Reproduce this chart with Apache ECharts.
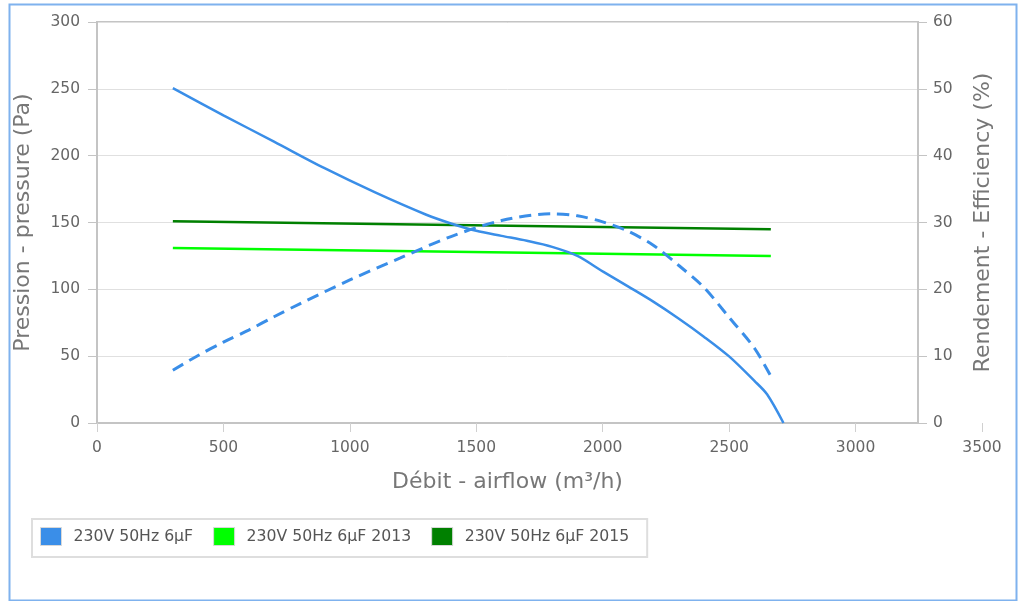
<!DOCTYPE html>
<html>
<head>
<meta charset="utf-8">
<script src="https://cdn.jsdelivr.net/npm/echarts@6/dist/echarts.min.js"></script>
<style>
html,body{margin:0;padding:0;background:#fff;}
#chart{width:1022px;height:601px;}
</style>
</head>
<body>
<div id="chart"></div>
<script>
// ---- data ----
var seriesNames = ['230V 50Hz 6µF', '230V 50Hz 6µF 2013', '230V 50Hz 6µF 2015'];
var flowPressure = [300, 500, 700, 900, 1100, 1300, 1400, 1500, 1600, 1700, 1800, 1900, 2000, 2100, 2200, 2300, 2400, 2500, 2600, 2650, 2715];
var pressure     = [250.5, 230.2, 210.5, 190.6, 172.5, 156, 149.3, 143.8, 140, 136.3, 131.8, 125, 113.4, 102.2, 90.8, 78.2, 64.6, 49.8, 31.5, 21.5, 0];
var flowEff      = [300, 400, 500, 600, 700, 800, 1000, 1200, 1400, 1600, 1800, 1900, 2000, 2100, 2200, 2300, 2400, 2500, 2600, 2665];
var efficiency   = [7.9, 10.1, 12.1, 13.9, 15.9, 17.8, 21.4, 24.7, 27.9, 30.3, 31.3, 31.0, 30.1, 28.7, 26.6, 23.6, 20.3, 15.8, 11.2, 7.0];
var flowTarget   = [300, 2665];
var target2013   = [26.2, 25.0];
var target2015   = [30.2, 29.0];
var xTicks = [0, 500, 1000, 1500, 2000, 2500, 3000, 3500];
var leftTicks = [0, 50, 100, 150, 200, 250, 300];
var rightTicks = [0, 10, 20, 30, 40, 50, 60];

function pairs(xs, ys) { return xs.map(function (x, i) { return [x, ys[i]]; }); }
function plain(v) { return String(v); }

var FONT = 'DejaVu Sans';
var BLUE = '#3a8ee8', LIME = '#00ff00', DARK = '#008000';
var AXIS = '#c4c4c4';
var TICKFS = 15.5, TITLEFS = 22;

var chart = echarts.init(document.getElementById('chart'), null, {renderer: 'canvas'});
chart.setOption({
  animation: false,
  backgroundColor: '#fff',
  graphic: [{
    type: 'rect', left: 7, top: 2, silent: true,
    shape: {width: 1007, height: 596},
    style: {fill: 'none', stroke: '#7fb2ee', lineWidth: 2}
  }],
  grid: [
    {left: 97, top: 22, right: 104, bottom: 178, show: true, borderColor: AXIS, borderWidth: 2, backgroundColor: 'transparent'},
    {left: 97, top: 22, right: 40, bottom: 178, show: false}
  ],
  xAxis: [
    {
      gridIndex: 0, type: 'value', min: xTicks[0], max: 3247,
      axisLine: {show: true, lineStyle: {color: AXIS, width: 2}},
      axisTick: {show: false}, axisLabel: {show: false}, splitLine: {show: false},
      name: 'Débit - airflow (m³/h)', nameLocation: 'middle', nameGap: 48,
      nameTextStyle: {fontFamily: FONT, fontSize: TITLEFS, color: '#777'}
    },
    {
      gridIndex: 1, type: 'value', min: xTicks[0], max: xTicks[xTicks.length - 1], interval: 500,
      axisLine: {show: false},
      axisTick: {show: true, length: 9, lineStyle: {color: '#d0d0d0', width: 1}},
      axisLabel: {fontFamily: FONT, fontSize: TICKFS, color: '#666', margin: 17, formatter: plain},
      splitLine: {show: false}
    }
  ],
  yAxis: [
    {
      gridIndex: 0, type: 'value', position: 'left',
      min: leftTicks[0], max: leftTicks[leftTicks.length - 1], interval: 50,
      axisLine: {show: true, lineStyle: {color: AXIS, width: 2}},
      axisTick: {show: true, length: 9, lineStyle: {color: AXIS}},
      axisLabel: {fontFamily: FONT, fontSize: TICKFS, color: '#666', margin: 17, formatter: plain},
      splitLine: {show: true, lineStyle: {color: '#e0e0e0', width: 1}},
      name: 'Pression - pressure (Pa)', nameLocation: 'middle', nameGap: 63, nameRotate: 90,
      nameTextStyle: {fontFamily: FONT, fontSize: TITLEFS, color: '#777'}
    },
    {
      gridIndex: 0, type: 'value', position: 'right',
      min: rightTicks[0], max: rightTicks[rightTicks.length - 1], interval: 10,
      axisLine: {show: true, lineStyle: {color: AXIS, width: 2}},
      axisTick: {show: true, length: 9, lineStyle: {color: AXIS}},
      axisLabel: {fontFamily: FONT, fontSize: TICKFS, color: '#666', margin: 15, formatter: plain},
      splitLine: {show: false},
      name: 'Rendement - Efficiency (%)', nameLocation: 'middle', nameGap: 54, nameRotate: 90,
      nameTextStyle: {fontFamily: FONT, fontSize: TITLEFS, color: '#777'}
    },
    {gridIndex: 1, type: 'value', show: false, min: 0, max: 1}
  ],
  legend: {
    left: 32, top: 519, orient: 'horizontal',
    padding: [8, 18, 11, 8],
    itemWidth: 21, itemHeight: 18, itemGap: 20,
    borderColor: '#dedede', borderWidth: 2,
    icon: 'rect',
    itemStyle: {borderColor: '#d8d8d8', borderWidth: 1},
    textStyle: {fontFamily: FONT, fontSize: 15.7, color: '#555', padding: [0, 0, 5, 7]},
    data: seriesNames
  },
  series: [
    {
      name: seriesNames[0], type: 'line', xAxisIndex: 0, yAxisIndex: 0,
      data: pairs(flowPressure, pressure), smooth: 0.3,
      showSymbol: false, itemStyle: {color: BLUE},
      lineStyle: {color: BLUE, width: 2.5}, z: 3
    },
    {
      name: seriesNames[0], type: 'line', xAxisIndex: 0, yAxisIndex: 1,
      data: pairs(flowEff, efficiency), smooth: 0.3,
      showSymbol: false, itemStyle: {color: BLUE},
      lineStyle: {color: BLUE, width: 3, type: [12, 7]}, z: 3
    },
    {
      name: seriesNames[1], type: 'line', xAxisIndex: 0, yAxisIndex: 1,
      data: pairs(flowTarget, target2013), showSymbol: false,
      itemStyle: {color: LIME}, lineStyle: {color: LIME, width: 2.5}, z: 2
    },
    {
      name: seriesNames[2], type: 'line', xAxisIndex: 0, yAxisIndex: 1,
      data: pairs(flowTarget, target2015), showSymbol: false,
      itemStyle: {color: DARK}, lineStyle: {color: DARK, width: 2.5}, z: 2
    }
  ]
});
</script>
</body>
</html>
